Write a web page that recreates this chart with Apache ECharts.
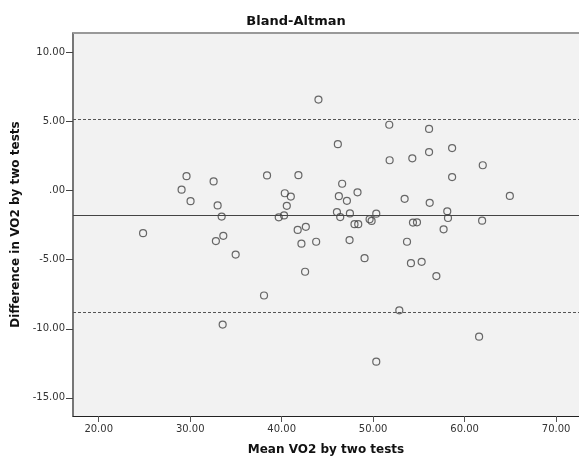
<!DOCTYPE html>
<html>
<head>
<meta charset="utf-8">
<script src="https://cdn.jsdelivr.net/npm/echarts@6/dist/echarts.min.js"></script>
<style>html,body{margin:0;padding:0;background:#fff;overflow:hidden;}#c{width:579px;height:461px;}</style>
</head>
<body>
<div id="c"></div>
<script>
// Mean of two tests (x) and difference between tests (y)
var meanVO2 = [24.85,29.6,29.06,30.04,32.56,33.0,33.44,33.62,32.81,34.97,33.55,44.02,51.76,56.11,46.14,56.11,51.8,54.28,58.63,38.4,41.83,46.61,40.34,41.0,40.56,39.68,40.26,46.25,48.29,47.13,46.04,46.4,47.46,50.34,49.61,49.83,47.96,48.37,53.44,56.18,54.35,54.79,58.1,58.18,57.7,41.75,42.64,42.16,43.77,47.42,53.7,58.63,49.06,54.13,55.3,56.91,42.56,38.07,52.86,50.34,61.98,64.94,61.91,61.58];
var diffVO2 = [-3.08,1.05,0.07,-0.76,0.67,-1.07,-1.88,-3.27,-3.65,-4.63,-9.69,6.59,4.77,4.47,3.36,2.79,2.20,2.34,3.08,1.10,1.12,0.50,-0.19,-0.43,-1.10,-1.93,-1.79,-0.40,-0.12,-0.74,-1.55,-1.91,-1.65,-1.67,-2.07,-2.19,-2.43,-2.43,-0.59,-0.88,-2.31,-2.29,-1.50,-1.98,-2.80,-2.84,-2.62,-3.84,-3.70,-3.58,-3.70,0.98,-4.89,-5.25,-5.15,-6.18,-5.87,-7.59,-8.66,-12.38,1.84,-0.38,-2.17,-10.57];
var meanDiff = -1.81;
var limitsOfAgreement = [5.18, -8.80];
var xTickValues = [20, 30, 40, 50, 60, 70];
var xTickLabels = ['20.00', '30.00', '40.00', '50.00', '60.00', '70.00'];
var yTickValues = [-15, -10, -5, 0, 5, 10];
var yTickLabels = ['-15.00', '-10.00', '-5.00', '.00', '5.00', '10.00'];

var points = meanVO2.map(function (v, i) { return [v, diffVO2[i]]; });

var chart = echarts.init(document.getElementById('c'), null, {renderer: 'canvas'});
var font = 'DejaVu Sans';
var xMin = 17.19, xMax = 72.5, yMin = -16.31, yMax = 11.41;
chart.setOption({
  animation: false,
  backgroundColor: '#ffffff',
  title: {
    text: 'Bland-Altman',
    left: 291,
    top: 10,
    textAlign: 'center',
    textStyle: {fontFamily: font, fontSize: 13, fontWeight: 'bold', color: '#111'}
  },
  grid: {
    left: 73, top: 33, right: 0, bottom: 41,
    show: true, backgroundColor: '#f2f2f2', borderWidth: 0, borderColor: 'rgba(0,0,0,0)'
  },
  xAxis: {
    type: 'value',
    position: 'bottom',
    min: xMin, max: xMax,
    name: 'Mean VO2 by two tests',
    nameLocation: 'middle',
    nameGap: 28,
    nameTextStyle: {fontFamily: font, fontSize: 12, fontWeight: 'bold', color: '#111'},
    axisLine: {show: true, onZero: false, lineStyle: {color: '#222', width: 1}},
    axisTick: {show: true, length: 6, customValues: xTickValues, lineStyle: {color: '#555'}},
    axisLabel: {
      customValues: xTickValues,
      fontFamily: font, fontSize: 10, color: '#333', margin: 8,
      formatter: function (v) { return xTickLabels[xTickValues.indexOf(v)]; }
    },
    splitLine: {show: false}
  },
  yAxis: {
    type: 'value',
    position: 'left',
    min: yMin, max: yMax,
    name: 'Difference in VO2 by two tests',
    nameLocation: 'middle',
    nameGap: 49,
    nameTextStyle: {fontFamily: font, fontSize: 12, fontWeight: 'bold', color: '#111'},
    axisLine: {show: true, onZero: false, lineStyle: {color: '#777', width: 2}},
    axisTick: {show: true, length: 7, customValues: yTickValues, lineStyle: {color: '#444'}},
    axisLabel: {
      customValues: yTickValues,
      fontFamily: font, fontSize: 10, color: '#333', margin: 8,
      formatter: function (v) { return yTickLabels[yTickValues.indexOf(v)]; }
    },
    splitLine: {show: false}
  },
  series: [{
    type: 'scatter',
    data: points,
    symbol: 'circle',
    symbolSize: 7,
    itemStyle: {color: 'rgba(0,0,0,0)', borderColor: '#444', borderWidth: 1.2},
    markLine: {
      silent: true,
      symbol: 'none',
      label: {show: false},
      data: [
        {yAxis: meanDiff, lineStyle: {type: 'solid', color: '#444', width: 1}},
        {yAxis: limitsOfAgreement[0], lineStyle: {type: [3, 2], color: '#555', width: 1}},
        {yAxis: limitsOfAgreement[1], lineStyle: {type: [3, 2], color: '#555', width: 1}},
        {yAxis: yMax, lineStyle: {type: 'solid', color: '#999', width: 2}}
      ]
    }
  }]
});
</script>
</body>
</html>
